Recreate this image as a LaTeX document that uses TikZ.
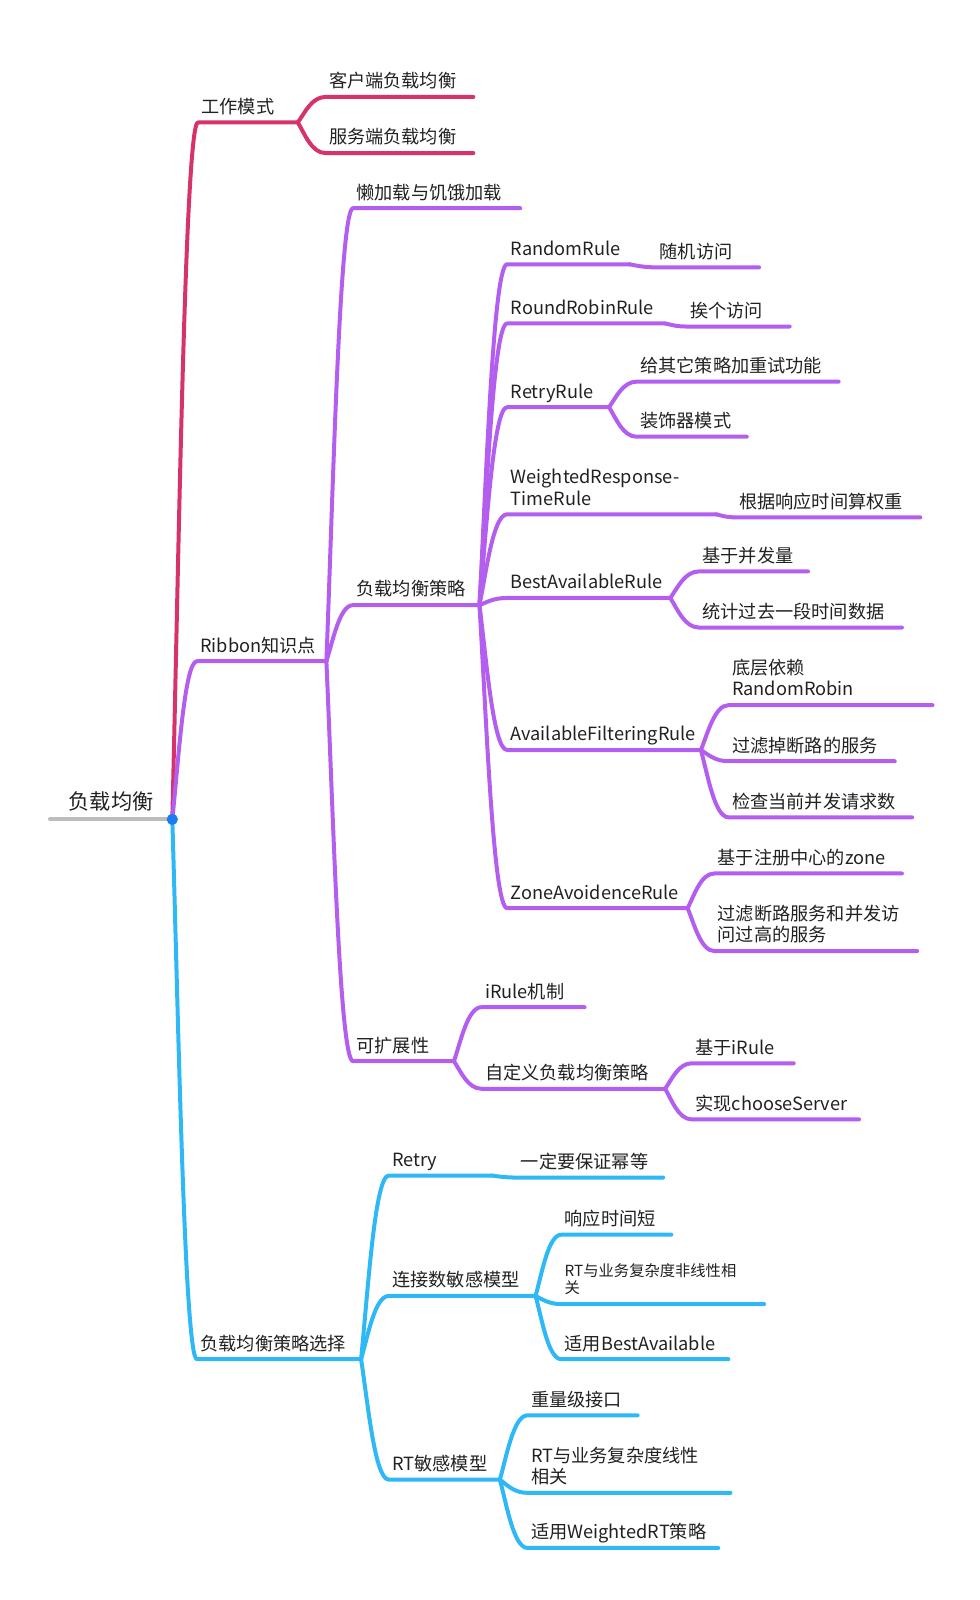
\documentclass[tikz,border=0pt]{standalone}
\usepackage{fontspec}
\setmainfont{Noto Sans CJK SC}
\usetikzlibrary{calc}
\definecolor{redbr}{HTML}{D6336C}
\definecolor{purplebr}{HTML}{B45EF0}
\definecolor{bluebr}{HTML}{2EB8F5}
\definecolor{rootgray}{HTML}{BDBDBD}
\definecolor{dotblue}{HTML}{1A7CF2}
\begin{document}
\begin{tikzpicture}[x=1.0208pt,y=-1.0208pt,line width=4pt,line cap=round,line join=round,
  topic/.style={anchor=south west,inner xsep=1.5pt,inner ysep=0.7pt,text width={(#1-3)*1.0208pt},align=left,
    text=black!87,font=\fontsize{18.2}{21.5}\selectfont,execute at end node=\strut},
  small/.style={topic=#1,inner ysep=3.2pt,font=\fontsize{15.3}{17.6}\selectfont},
  branch/.style={to path={.. controls ($(\tikztostart)!.5!(\tikztostart|-\tikztotarget)!.25!(\tikztotarget|-\tikztostart)$)
    and ($(\tikztostart|-\tikztotarget)!.5!(\tikztotarget)$) .. (\tikztotarget)}}]
\useasboundingbox (0,0) rectangle (960,1568);

\node[topic=116,align=center,inner ysep=0.7pt,font=\fontsize{21.2}{25}\selectfont] (root) at (49,803) {负载均衡};

\node[topic=94] (work) at (194,120) {工作模式};
\node[topic=141] (client) at (319,95) {客户端负载均衡};
\node[topic=141] (server) at (319,150) {服务端负载均衡};

\node[topic=123] (ribbon) at (193,648) {Ribbon知识点};
\node[topic=160] (lazy) at (346,204) {懒加载与饥饿加载};
\node[topic=120] (strat) at (346,593) {负载均衡策略};
\node[topic=95] (ext) at (346,1040) {可扩展性};

\node[topic=116] (random) at (497,259) {RandomRule};
\node[topic=97] (randomN) at (643,262) {随机访问};
\node[topic=151] (robin) at (497,317) {RoundRobinRule};
\node[topic=97] (robinN) at (673,320) {挨个访问};
\node[topic=96] (retry) at (497,399) {RetryRule};
\node[topic=194] (retryA) at (624,374) {给其它策略加重试功能};
\node[topic=104] (retryB) at (624,428) {装饰器模式};
\node[topic=201] (weighted) at (497,504) {WeightedResponse-\\TimeRule};
\node[topic=177] (weightedN) at (721,507) {根据响应时间算权重};
\node[topic=156] (best) at (497,586) {BestAvailableRule};
\node[topic=103] (bestA) at (685,560) {基于并发量};
\node[topic=195] (bestB) at (685,615) {统计过去一段时间数据};
\node[topic=186] (filter) at (497,735) {AvailableFilteringRule};
\node[topic=196] (filterA) at (714,691) {底层依赖\\RandomRobin};
\node[topic=159] (filterB) at (714,746) {过滤掉断路的服务};
\node[topic=176] (filterC) at (714,801) {检查当前并发请求数};
\node[topic=173] (zone) at (497,890) {ZoneAvoidenceRule};
\node[topic=180] (zoneA) at (700,856) {基于注册中心的zone};
\node[topic=195] (zoneB) at (700,932) {过滤断路服务和并发访\\问过高的服务};

\node[topic=97] (irule) at (472,987) {iRule机制};
\node[topic=176] (custom) at (472,1067) {自定义负载均衡策略};
\node[topic=96] (customA) at (678,1042) {基于iRule};
\node[topic=160] (customB) at (678,1097) {实现chooseServer};

\node[topic=157] (choice) at (193,1332) {负载均衡策略选择};
\node[topic=97] (rtry) at (381,1152) {Retry};
\node[topic=139] (rtryN) at (507,1154) {一定要保证幂等};
\node[topic=140] (conn) at (381,1270) {连接数敏感模型};
\node[topic=104] (connA) at (550,1210) {响应时间短};
\node[small=195] (connB) at (550,1278) {RT与业务复杂度非线性相\\关};
\node[topic=160] (connC) at (550,1332) {适用BestAvailable};
\node[topic=105] (rt) at (381,1450) {RT敏感模型};
\node[topic=104] (rtA) at (517,1387) {重量级接口};
\node[topic=195] (rtB) at (517,1463) {RT与业务复杂度线性\\相关};
\node[topic=183] (rtC) at (517,1517) {适用WeightedRT策略};

\draw[rootgray] (root.south west) -- (root.south east);
\foreach \a/\b in {root/work,work/client,work/server}
  \draw[redbr] (\a.south east) to[branch] (\b.south west) -- (\b.south east);
\foreach \a/\b in {root/ribbon,ribbon/lazy,ribbon/strat,ribbon/ext,
    strat/random,random/randomN,strat/robin,robin/robinN,strat/retry,retry/retryA,retry/retryB,
    strat/weighted,weighted/weightedN,strat/best,best/bestA,best/bestB,
    strat/filter,filter/filterA,filter/filterB,filter/filterC,strat/zone,zone/zoneA,zone/zoneB,
    ext/irule,ext/custom,custom/customA,custom/customB}
  \draw[purplebr] (\a.south east) to[branch] (\b.south west) -- (\b.south east);
\foreach \a/\b in {root/choice,choice/rtry,rtry/rtryN,choice/conn,conn/connA,conn/connB,conn/connC,
    choice/rt,rt/rtA,rt/rtB,rt/rtC}
  \draw[bluebr] (\a.south east) to[branch] (\b.south west) -- (\b.south east);
\fill[dotblue] (root.south east) circle (5.5);
\end{tikzpicture}
\end{document}
